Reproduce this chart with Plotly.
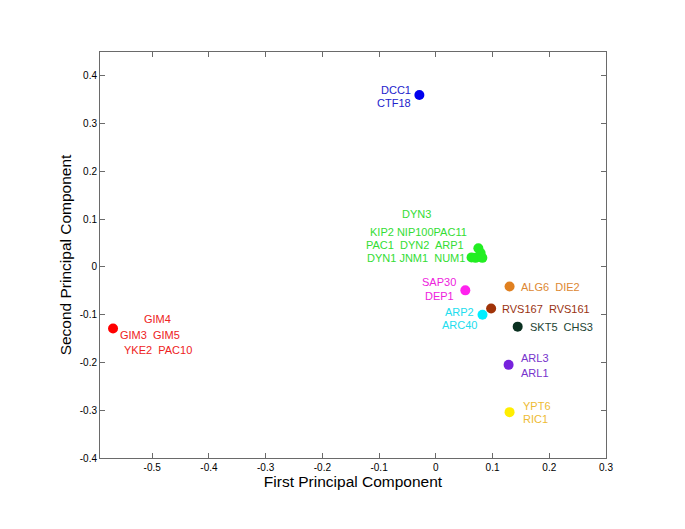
import plotly.graph_objects as go

# ---- data ----
groups = ["GIM", "DCC", "DYN", "SAP", "ALG", "RVS", "ARP2", "SKT", "ARL", "YPT"]
pc1 = {
    "GIM": [-0.569],
    "DCC": [-0.029],
    "DYN": [0.075, 0.079, 0.063, 0.070, 0.082],
    "SAP": [0.052],
    "ALG": [0.130],
    "RVS": [0.0975],
    "ARP2": [0.0823],
    "SKT": [0.1443],
    "ARL": [0.1283],
    "YPT": [0.130],
}
pc2 = {
    "GIM": [-0.129],
    "DCC": [0.360],
    "DYN": [0.039, 0.029, 0.020, 0.019, 0.019],
    "SAP": [-0.049],
    "ALG": [-0.041],
    "RVS": [-0.087],
    "ARP2": [-0.100],
    "SKT": [-0.125],
    "ARL": [-0.205],
    "YPT": [-0.304],
}
gene_lines = {
    "GIM": ["GIM4", "GIM3  GIM5", "YKE2  PAC10"],
    "DCC": ["DCC1", "CTF18"],
    "DYN": ["DYN3", "KIP2 NIP100PAC11", "PAC1  DYN2  ARP1", "DYN1 JNM1  NUM1"],
    "SAP": ["SAP30", "DEP1"],
    "ALG": ["ALG6  DIE2"],
    "RVS": ["RVS167  RVS161"],
    "ARP2": ["ARP2", "ARC40"],
    "SKT": ["SKT5  CHS3"],
    "ARL": ["ARL3", "ARL1"],
    "YPT": ["YPT6", "RIC1"],
}
x_ticks = [-0.5, -0.4, -0.3, -0.2, -0.1, 0, 0.1, 0.2, 0.3]
y_ticks = [-0.4, -0.3, -0.2, -0.1, 0, 0.1, 0.2, 0.3, 0.4]

# ---- styles ----
marker_col = {
    "GIM": "#ff0000", "DCC": "#0000ee", "DYN": "#22ee22", "SAP": "#ff22ee",
    "ALG": "#e08020", "RVS": "#a03308", "ARP2": "#00eeff", "SKT": "#0a3020",
    "ARL": "#7722dd", "YPT": "#ffee00",
}
label_col = {
    "GIM": "#ee2222", "DCC": "#2222cc", "DYN": "#33dd33", "SAP": "#ee22dd",
    "ALG": "#dd8833", "RVS": "#993311", "ARP2": "#22ddee", "SKT": "#224433",
    "ARL": "#7733cc", "YPT": "#eebb33",
}
# per line: (xshift, yshift, xanchor) relative to first point of group
label_pos = {
    "GIM": [(44, 10, "center"), (37, -6, "center"), (45, -21, "center")],
    "DCC": [(-23, 5, "center"), (-25, -8, "center")],
    "DYN": [(-62, 34, "center"), (-60, 16, "center"), (-63, 3, "center"), (-62, -10, "center")],
    "SAP": [(-26, 8, "center"), (-26, -6, "center")],
    "ALG": [(9, 0, "left")],
    "RVS": [(9, 0, "left")],
    "ARP2": [(-23, 3, "center"), (-23, -10, "center")],
    "SKT": [(10, 0, "left")],
    "ARL": [(10, 7, "left"), (10, -8, "left")],
    "YPT": [(11, 6, "left"), (11, -7, "left")],
}

FONT = "Liberation Sans, Arial, Helvetica, sans-serif"

fig = go.Figure()
annotations = []
for g in groups:
    fig.add_trace(go.Scatter(
        x=pc1[g], y=pc2[g], mode="markers", name=g,
        marker=dict(color=marker_col[g], size=10, line=dict(width=0)),
        showlegend=False, hoverinfo="skip",
    ))
    for text, (dx, dy, xa) in zip(gene_lines[g], label_pos[g]):
        annotations.append(dict(
            x=pc1[g][0], y=pc2[g][0], xref="x", yref="y", text=text,
            showarrow=False, xshift=dx, yshift=dy, xanchor=xa, yanchor="middle",
            font=dict(family=FONT, size=11, color=label_col[g]),
        ))

axis_common = dict(
    showgrid=False, zeroline=False, showline=True, linecolor="#6a6a6a", linewidth=1,
    mirror="ticks", ticks="inside", ticklen=5, tickcolor="#6a6a6a",
    tickfont=dict(family=FONT, size=10, color="#000000"),
)
fig.update_layout(
    width=685, height=529,
    margin=dict(l=92, r=87, t=44, b=79),
    paper_bgcolor="white", plot_bgcolor="white",
    xaxis=dict(range=[-0.592, 0.3], tickvals=x_ticks, ticktext=[str(v) for v in x_ticks],
               title=dict(text="First Principal Component", font=dict(family=FONT, size=15.5, color="black"), standoff=4),
               **axis_common),
    yaxis=dict(range=[-0.4, 0.45], tickvals=y_ticks, ticktext=[str(v) for v in y_ticks],
               title=dict(text="Second Principal Component", font=dict(family=FONT, size=15.5, color="black"), standoff=4),
               **axis_common),
    annotations=annotations,
)
fig.write_html("out.html")
